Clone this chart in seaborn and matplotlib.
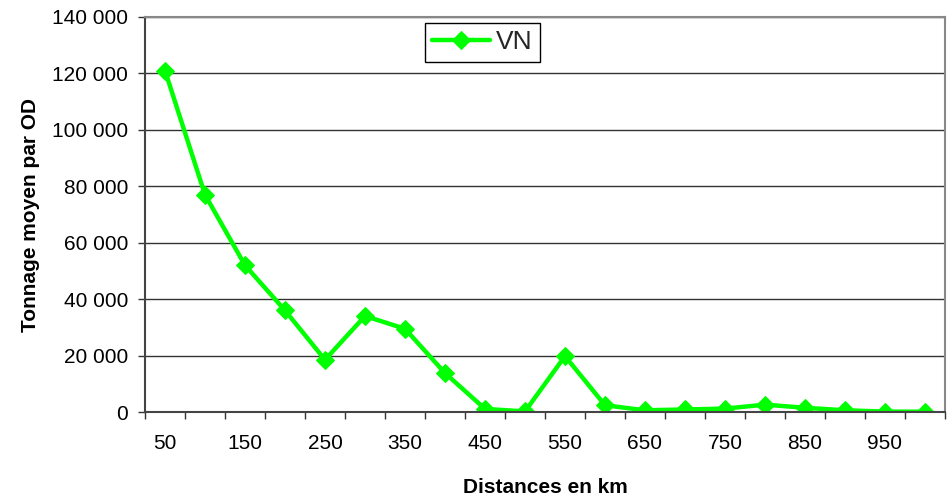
import matplotlib
matplotlib.use("Agg")
import matplotlib.pyplot as plt
import seaborn as sns
import pandas as pd
from matplotlib.ticker import FuncFormatter, FixedLocator

sns.set_theme(style="white")
plt.rcParams['font.family'] = ['Liberation Sans', 'DejaVu Sans']

distances = [50, 100, 150, 200, 250, 300, 350, 400, 450, 500,
             550, 600, 650, 700, 750, 800, 850, 900, 950, 1000]
vn_tonnage = [121000, 77000, 52000, 36000, 18500, 34000, 29500, 13800, 1100, 200,
              19800, 2400, 600, 900, 1200, 2600, 1500, 600, 150, 100]
series_name = "VN"
y_ticks = [0, 20000, 40000, 60000, 80000, 100000, 120000, 140000]

df = pd.DataFrame({"Distance": [str(d) for d in distances],
                   "Tonnage": vn_tonnage,
                   "Série": series_name})

fig = plt.figure(figsize=(9.49, 5.0), dpi=100)
ax = fig.add_axes([145 / 949, 88 / 500, 800 / 949, 395 / 500])

sns.lineplot(data=df, x="Distance", y="Tonnage", hue="Série",
             palette=["#00ff00"], marker="D", markersize=9,
             markeredgecolor="#00ff00", linewidth=3.2, ax=ax, sort=False)

n = len(distances)
ax.set_xlim(-0.5, n - 0.5)
ax.set_ylim(0, 140000)

# y axis
ax.yaxis.set_major_locator(FixedLocator(y_ticks))
ax.yaxis.set_major_formatter(FuncFormatter(lambda v, p: f"{int(v):,}".replace(",", " ")))
ax.grid(axis="y", color="#333333", linewidth=1.0)
ax.set_axisbelow(True)

# x axis: labels at every other category, tick marks on category boundaries
ax.set_xticks(list(range(0, n, 2)))
ax.set_xticklabels([str(d) for d in distances[::2]])
ax.set_xticks([i - 0.5 for i in range(n + 1)], minor=True)
ax.tick_params(axis="x", which="major", length=0, pad=16, labelsize=15, colors="black")
ax.tick_params(axis="x", which="minor", length=5, width=1, color="#333333", direction="out", bottom=True)
ax.tick_params(axis="y", which="major", length=5, width=1, color="#333333", direction="out",
               left=True, labelsize=15, colors="black", pad=7)

for side in ["left", "bottom"]:
    ax.spines[side].set_color("#444444")
    ax.spines[side].set_linewidth(1.5)
for side in ["top", "right"]:
    ax.spines[side].set_visible(True)
    ax.spines[side].set_color("#888888")
    ax.spines[side].set_linewidth(1.5)

ax.set_xlabel("Distances en km", fontsize=15, fontweight="bold", labelpad=18, color="black")
ax.set_ylabel("Tonnage moyen par OD", fontsize=15, fontweight="bold", labelpad=9, color="black")

leg = ax.legend(loc="upper left", bbox_to_anchor=(280 / 800, 1 - 6 / 395), frameon=True,
                fontsize=19, handlelength=2.2, handletextpad=0.2, borderpad=0.28,
                borderaxespad=0, fancybox=False, edgecolor="black", framealpha=1)
leg.get_frame().set_linewidth(1.0)

fig.savefig("out.png", dpi=100, facecolor="white")
